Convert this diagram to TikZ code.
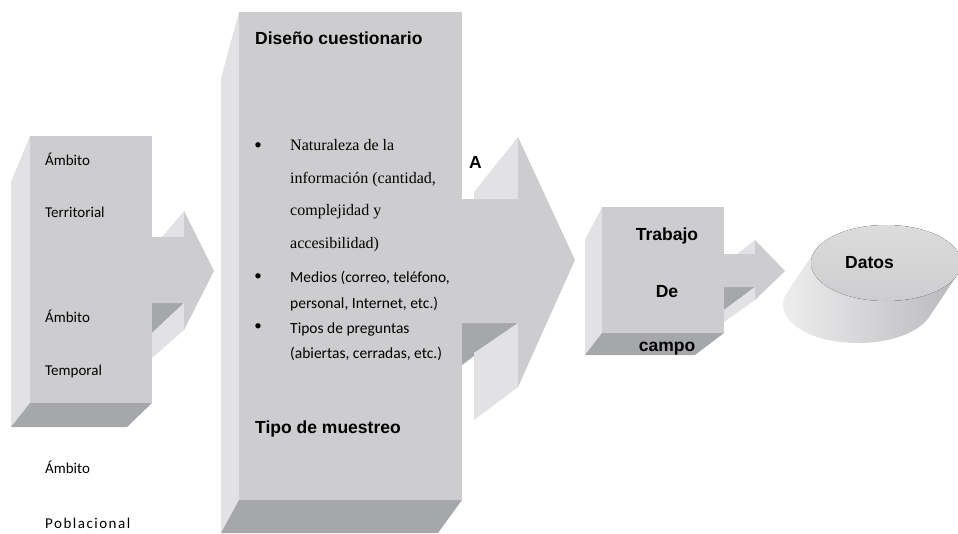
\documentclass[tikz,border=0pt]{standalone}
\usepackage{fontspec}
\setmainfont{Carlito}
\newfontfamily\serifbody{Liberation Serif}
\newfontfamily\headfont{Liberation Sans}
\usepackage{tikz}
\usetikzlibrary{positioning}

\definecolor{facegray}{HTML}{CDCDCF}
\definecolor{sidegray}{HTML}{E2E2E4}
\definecolor{shadegray}{HTML}{A6A7AA}

\begin{document}
\begin{tikzpicture}[
  x=1pt, y=-1pt,
  front/.style={fill=facegray},
  side/.style={fill=sidegray},
  shadow/.style={fill=shadegray},
  txt/.style={anchor=base west, inner sep=0pt, font=\fontsize{15}{17}\selectfont},
  item/.style={anchor=base west, inner sep=0pt, font=\fontsize{15.5}{17}\selectfont},
  sitem/.style={anchor=base west, inner sep=0pt, font=\serifbody\fontsize{16}{18}\selectfont},
  bold/.style={anchor=base west, inner sep=0pt, font=\headfont\bfseries\fontsize{17.5}{20}\selectfont},
  dot/.style={inner sep=0pt, font=\fontsize{15}{17}\selectfont},
]
\useasboundingbox (0,0) rectangle (958,533);

% --- Ambito block ---
\fill[side] (11,182) -- (30,136) -- (30,403) -- (11,427) -- cycle;
\fill[shadow] (30,403) -- (152,403) -- (127,427) -- (11,427) -- cycle;
\fill[side] (162,237) -- (184,211) -- (184,237) -- cycle;
\fill[shadow] (152,303) -- (184,303) -- (152,333) -- cycle;
\fill[side] (152,333) -- (184,303) -- (184,330) -- (152,358) -- cycle;
\fill[front] (152,237) -- (184,237) -- (184,211) -- (214,271) -- (184,330) -- (184,303) -- (152,303) -- cycle;
\fill[front] (30,136) rectangle (152,403);

% --- Cuestionario block ---
\fill[side] (221,78) -- (239,12) -- (239,500) -- (221,533) -- cycle;
\fill[shadow] (239,500) -- (462,500) -- (438,533) -- (221,533) -- cycle;
\fill[side] (474,192) -- (518,137) -- (518,199) -- (474,199) -- cycle;
\fill[shadow] (462,323) -- (518,323) -- (462,365) -- cycle;
\fill[side] (474,353) -- (518,323) -- (518,387) -- (474,420) -- cycle;
\fill[front] (462,199) -- (518,199) -- (518,137) -- (575,260) -- (518,387) -- (518,323) -- (462,323) -- cycle;
\fill[front] (239,12) rectangle (462,500);

% --- Trabajo block ---
\fill[side] (585,240) -- (602,207) -- (602,333) -- (585,355) -- cycle;
\fill[shadow] (602,333) -- (724,333) -- (695,355) -- (585,355) -- cycle;
\fill[side] (737,254) -- (755,240) -- (755,254) -- cycle;
\fill[shadow] (724,287) -- (755,287) -- (724,310) -- cycle;
\fill[side] (724,310) -- (755,287) -- (755,300) -- (724,322) -- cycle;
\fill[front] (724,254) -- (755,254) -- (755,240) -- (785,271) -- (755,300) -- (755,287) -- (724,287) -- cycle;
\fill[front] (602,207) rectangle (724,333);

% --- Datos cylinder ---
\path[left color=sidegray!60, right color=shadegray!80]
  \foreach \i in {0,...,20} {({886-1.4*\i},{263+2.1*\i}) ellipse [x radius=75, y radius=38]};
\fill[top color=facegray!70, bottom color=facegray] (886,263) ellipse [x radius=75, y radius=38];

% --- Ambito labels ---
\node[txt] (amb1) at (45,165) {Ámbito};
\node[txt, below=52pt of amb1.base west, anchor=base west] (terr) {Territorial};
\node[txt] (amb2) at (45,322) {Ámbito};
\node[txt, below=53pt of amb2.base west, anchor=base west] (temp) {Temporal};
\node[txt] (amb3) at (45,473) {Ámbito};
\node[txt, below=55pt of amb3.base west, anchor=base west] (pobl) {\addfontfeature{LetterSpace=10}Poblacional};

% --- Cuestionario labels ---
\node[bold] (dis) at (255,44) {Diseño cuestionario};
\node[dot] (b1) at (258,146) {•};
\node[sitem] (nat) at (290,150) {Naturaleza de la};
\node[sitem] (inf) at (290,183) {información (cantidad,};
\node[sitem] (com) at (290,215) {complejidad y};
\node[sitem] (acc) at (290,248) {accesibilidad)};
\node[dot] (b2) at (258,277) {•};
\node[item] (med) at (290,282) {Medios (correo, teléfono,};
\node[item] (per) at (290,308) {personal, Internet, etc.)};
\node[dot] (b3) at (258,327) {•};
\node[item] (tip) at (290,333) {Tipos de preguntas};
\node[item] (abi) at (290,358) {(abiertas, cerradas, etc.)};
\node[bold] (mue) at (255,433) {Tipo de muestreo};
\node[bold] (a) at (469,168) {A};

% --- Trabajo labels ---
\node[bold, anchor=base] (trab) at (667,240) {Trabajo};
\node[bold, anchor=base] (de) at (667,297) {De};
\node[bold, anchor=base] (camp) at (667,351) {campo};

% --- Datos label ---
\node[bold] (dat) at (845,268) {Datos};

\end{tikzpicture}
\end{document}
